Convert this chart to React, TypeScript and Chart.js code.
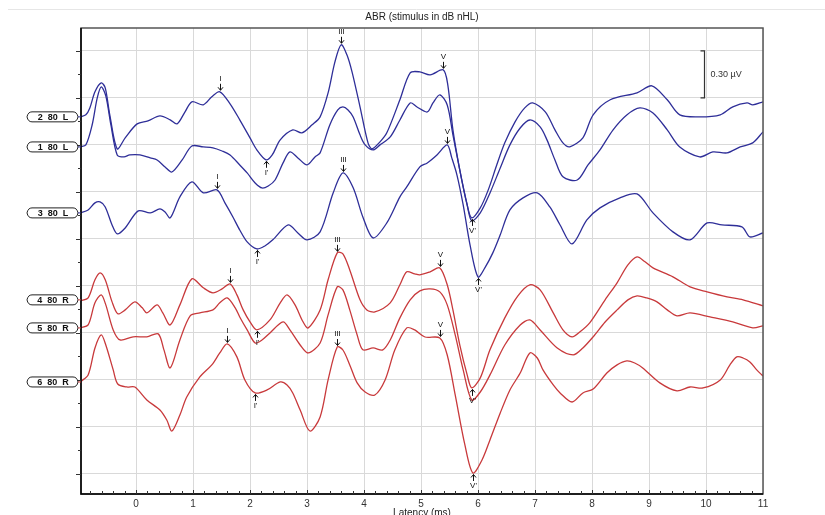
import { useEffect, useRef } from 'react';
import { Chart, registerables } from 'chart.js';

Chart.register(...registerables);

// ---------- data ----------
const TITLE = 'ABR (stimulus in dB nHL)';
const X_TITLE = 'Latency (ms)';
const LATENCY_TICKS = [0, 1, 2, 3, 4, 5, 6, 7, 8, 9, 10, 11];
const SCALE_BAR_LABEL = '0.30 µV';
const SCALE_BAR_UV = 0.3;

const TRACE_LABELS = ['2  80  L', '1  80  L', '3  80  L', '4  80  R', '5  80  R', '6  80  R'];
const TRACE_EAR = ['L', 'L', 'L', 'R', 'R', 'R'];
// vertical offsets of each trace baseline (µV)
const TRACE_OFFSETS = [2.279, 2.087, 1.666, 1.111, 0.932, 0.587];

// trace "2 80 L"
const T2_MS = [-0.98, -0.88, -0.81, -0.72, -0.61, -0.54, -0.46, -0.33, -0.19, 0.02, 0.21, 0.42, 0.6, 0.72, 0.86, 0.98, 1.18, 1.33, 1.47, 1.65, 1.82, 2.0, 2.12, 2.28, 2.39, 2.53, 2.75, 2.91, 3.09, 3.23, 3.37, 3.49, 3.6, 3.7, 3.79, 3.93, 4.07, 4.14, 4.28, 4.4, 4.63, 4.81, 4.98, 5.16, 5.39, 5.47, 5.56, 5.68, 5.81, 5.89, 6.04, 6.18, 6.33, 6.47, 6.65, 6.82, 6.96, 7.18, 7.35, 7.49, 7.61, 7.84, 8.02, 8.32, 8.79, 9.05, 9.32, 9.54, 9.89, 10.25, 10.47, 10.72, 10.82, 11.0];
const T2_UV = [0, 0.013, 0.057, 0.16, 0.217, 0.185, 0.013, -0.204, -0.134, -0.045, -0.026, 0.006, -0.019, -0.045, 0.032, 0.096, 0.077, 0.128, 0.16, 0.083, -0.019, -0.134, -0.211, -0.274, -0.243, -0.147, -0.083, -0.102, -0.051, 0, 0.153, 0.351, 0.46, 0.396, 0.287, 0.064, -0.166, -0.204, -0.16, -0.102, 0.109, 0.281, 0.287, 0.268, 0.3, 0.204, -0.083, -0.338, -0.562, -0.645, -0.581, -0.466, -0.306, -0.166, -0.032, 0.057, 0.089, 0.032, -0.083, -0.166, -0.191, -0.134, 0.013, 0.109, 0.153, 0.198, 0.109, 0.013, 0, 0.013, 0.064, 0.089, 0.077, 0.096];

// trace "1 80 L"
const T1_MS = [-0.98, -0.88, -0.77, -0.68, -0.61, -0.53, -0.44, -0.33, -0.21, -0.11, 0.07, 0.25, 0.37, 0.51, 0.63, 0.81, 0.98, 1.18, 1.35, 1.51, 1.65, 1.82, 1.95, 2.09, 2.21, 2.32, 2.44, 2.58, 2.7, 2.84, 3.0, 3.14, 3.23, 3.4, 3.54, 3.63, 3.72, 3.81, 3.93, 4.02, 4.16, 4.28, 4.46, 4.63, 4.81, 4.93, 5.11, 5.21, 5.33, 5.46, 5.56, 5.68, 5.81, 5.89, 6.04, 6.21, 6.39, 6.56, 6.74, 6.91, 7.09, 7.21, 7.35, 7.49, 7.74, 7.93, 8.14, 8.37, 8.61, 8.84, 9.07, 9.32, 9.54, 9.89, 10.12, 10.37, 10.6, 10.82, 11.0];
const T1_UV = [0, 0.013, 0.14, 0.313, 0.383, 0.326, 0.14, -0.051, -0.064, -0.051, -0.051, -0.07, -0.083, -0.128, -0.16, -0.083, 0.006, 0, -0.006, -0.026, -0.051, -0.115, -0.166, -0.23, -0.262, -0.249, -0.211, -0.102, -0.032, -0.07, -0.115, -0.064, -0.038, 0.14, 0.236, 0.255, 0.236, 0.191, 0.077, 0.013, -0.019, 0.013, 0.064, 0.172, 0.281, 0.255, 0.223, 0.281, 0.332, 0.268, 0.077, -0.147, -0.37, -0.472, -0.421, -0.294, -0.134, 0.013, 0.121, 0.172, 0.128, 0.045, -0.083, -0.191, -0.211, -0.115, -0.019, 0.109, 0.204, 0.249, 0.217, 0.109, 0, -0.064, -0.032, -0.038, 0, 0.026, 0.096];

// trace "3 80 L"
const T3_MS = [-0.98, -0.84, -0.72, -0.63, -0.54, -0.42, -0.33, -0.19, 0.04, 0.25, 0.42, 0.51, 0.6, 0.77, 0.98, 1.18, 1.42, 1.56, 1.7, 1.82, 1.95, 2.12, 2.26, 2.4, 2.67, 2.84, 3.0, 3.23, 3.46, 3.63, 3.81, 3.98, 4.16, 4.4, 4.63, 4.75, 4.98, 5.11, 5.28, 5.46, 5.54, 5.63, 5.74, 5.86, 6.0, 6.12, 6.26, 6.39, 6.56, 6.79, 7.04, 7.26, 7.44, 7.65, 7.91, 8.14, 8.49, 8.79, 9.07, 9.42, 9.72, 10.02, 10.28, 10.63, 10.77, 11.0];
const T3_UV = [0, 0.019, 0.064, 0.07, 0.038, -0.077, -0.134, -0.096, 0.013, 0, 0.026, 0.006, -0.032, 0.102, 0.198, 0.128, 0.147, 0.064, -0.026, -0.109, -0.185, -0.23, -0.211, -0.172, -0.077, -0.128, -0.172, -0.121, 0.128, 0.255, 0.16, -0.026, -0.16, -0.064, 0.102, 0.166, 0.294, 0.319, 0.37, 0.434, 0.351, 0.243, 0.051, -0.204, -0.409, -0.351, -0.255, -0.14, 0.019, 0.096, 0.128, 0.038, -0.077, -0.198, -0.045, 0.032, 0.096, 0.121, 0, -0.121, -0.172, -0.064, -0.077, -0.089, -0.153, -0.128];

// trace "4 80 R"
const T4_MS = [-0.98, -0.84, -0.72, -0.63, -0.54, -0.42, -0.32, -0.19, -0.02, 0.11, 0.19, 0.37, 0.47, 0.6, 0.77, 0.98, 1.18, 1.35, 1.51, 1.65, 1.77, 1.88, 2.0, 2.12, 2.35, 2.53, 2.65, 2.79, 2.93, 3.02, 3.23, 3.37, 3.53, 3.63, 3.75, 3.93, 4.05, 4.19, 4.46, 4.63, 4.75, 4.89, 4.98, 5.16, 5.33, 5.46, 5.56, 5.68, 5.81, 5.89, 6.04, 6.21, 6.47, 6.7, 6.91, 7.09, 7.32, 7.49, 7.65, 7.79, 7.96, 8.23, 8.44, 8.63, 8.79, 8.93, 9.07, 9.42, 9.72, 10.02, 10.37, 10.65, 11.0];
const T4_UV = [-0.006, 0.013, 0.128, 0.172, 0.128, -0.013, -0.089, -0.064, -0.013, -0.051, -0.083, -0.032, -0.083, -0.16, -0.032, 0.134, 0.077, 0.045, 0.07, 0.102, 0.032, -0.064, -0.14, -0.191, -0.128, -0.019, 0.032, -0.032, -0.14, -0.179, -0.064, 0.128, 0.3, 0.294, 0.191, 0, -0.064, -0.077, -0.019, 0.096, 0.179, 0.166, 0.16, 0.179, 0.204, 0.096, -0.064, -0.287, -0.479, -0.562, -0.498, -0.319, -0.115, 0.026, 0.096, 0.064, -0.083, -0.191, -0.236, -0.204, -0.147, 0, 0.109, 0.223, 0.274, 0.243, 0.204, 0.147, 0.083, 0.051, 0.019, 0, -0.038];

// trace "5 80 R"
const T5_MS = [-0.98, -0.84, -0.72, -0.61, -0.53, -0.4, -0.28, -0.05, 0.19, 0.39, 0.49, 0.6, 0.77, 0.95, 1.12, 1.35, 1.47, 1.6, 1.74, 1.82, 1.95, 2.09, 2.21, 2.35, 2.58, 2.7, 2.88, 3.02, 3.23, 3.37, 3.53, 3.63, 3.75, 3.88, 3.98, 4.16, 4.33, 4.46, 4.63, 4.81, 4.98, 5.16, 5.33, 5.46, 5.6, 5.74, 5.89, 6.04, 6.21, 6.47, 6.74, 6.91, 7.09, 7.39, 7.67, 7.84, 8.02, 8.23, 8.44, 8.63, 8.79, 8.96, 9.14, 9.32, 9.49, 9.72, 10.07, 10.47, 10.82, 11.0];
const T5_UV = [0, 0.019, 0.16, 0.211, 0.147, -0.013, -0.077, -0.057, -0.057, -0.038, -0.14, -0.255, -0.077, 0.077, 0.096, 0.115, 0.16, 0.191, 0.128, 0.07, -0.013, -0.096, -0.077, -0.032, 0.038, -0.013, -0.109, -0.16, -0.096, 0.083, 0.262, 0.243, 0.115, -0.045, -0.14, -0.128, -0.14, -0.077, 0.064, 0.179, 0.236, 0.249, 0.23, 0.147, -0.045, -0.268, -0.46, -0.409, -0.3, -0.109, 0.019, 0.051, -0.013, -0.128, -0.172, -0.128, -0.057, 0.038, 0.115, 0.179, 0.204, 0.191, 0.166, 0.115, 0.077, 0.096, 0.07, 0.038, 0, 0.013];

// trace "6 80 R"
const T6_MS = [-0.98, -0.84, -0.72, -0.61, -0.53, -0.4, -0.32, -0.16, -0.02, 0.19, 0.42, 0.54, 0.63, 0.77, 0.89, 1.12, 1.33, 1.47, 1.6, 1.77, 1.91, 2.09, 2.3, 2.53, 2.65, 2.75, 2.88, 3.05, 3.23, 3.37, 3.53, 3.63, 3.75, 3.88, 4.02, 4.19, 4.37, 4.54, 4.75, 4.89, 5.07, 5.33, 5.46, 5.6, 5.77, 5.91, 6.07, 6.21, 6.39, 6.56, 6.74, 6.91, 7.04, 7.14, 7.32, 7.44, 7.65, 7.84, 8.02, 8.26, 8.44, 8.61, 8.75, 8.89, 9.19, 9.49, 9.72, 9.95, 10.25, 10.42, 10.54, 10.65, 10.77, 10.89, 11.0];
const T6_UV = [0, 0.045, 0.217, 0.3, 0.236, 0.077, -0.013, -0.032, -0.032, -0.115, -0.179, -0.243, -0.313, -0.211, -0.096, 0.032, 0.109, 0.185, 0.243, 0.16, 0.013, -0.07, -0.051, 0, -0.019, -0.07, -0.179, -0.313, -0.223, 0.013, 0.223, 0.204, 0.109, -0.006, -0.064, -0.083, 0.013, 0.204, 0.345, 0.332, 0.287, 0.281, 0.172, -0.083, -0.402, -0.581, -0.498, -0.37, -0.198, -0.051, 0.057, 0.185, 0.153, 0.077, -0.019, -0.07, -0.128, -0.07, -0.045, 0.057, 0.109, 0.134, 0.121, 0.089, -0.006, -0.057, -0.032, -0.038, 0.013, 0.109, 0.16, 0.153, 0.128, 0.077, 0.038];

const TRACE_MS = [T2_MS, T1_MS, T3_MS, T4_MS, T5_MS, T6_MS];
const TRACE_UV = [T2_UV, T1_UV, T3_UV, T4_UV, T5_UV, T6_UV];

// peak markers: trace index, latency (ms), label, side
const MARK_TRACE = [0, 0, 0, 0, 0, 2, 2, 2, 2, 2, 3, 3, 3, 3, 3, 5, 5, 5, 5, 5];
const MARK_MS = [1.47, 2.28, 3.6, 5.39, 5.89, 1.42, 2.12, 3.63, 5.46, 6.0, 1.65, 2.12, 3.53, 5.33, 5.89, 1.6, 2.09, 3.53, 5.33, 5.91];
const MARK_LABEL = ['I', "I'", 'III', 'V', "V'", 'I', "I'", 'III', 'V', "V'", 'I', "I'", 'III', 'V', "V'", 'I', "I'", 'III', 'V', "V'"];
const MARK_ABOVE = [true, false, true, true, false, true, false, true, true, false, true, false, true, true, false, true, false, true, true, false];

const BLUE = '#2e2e98';
const RED = '#c8393b';
const FONT = '"Liberation Sans", Arial, sans-serif';

const decor = {
  id: 'abrDecor',
  afterDraw(chart: any) {
    const { ctx, chartArea: a, scales } = chart;
    const xs = scales.x;
    const ys = scales.y;
    ctx.save();

    // faint page line at top
    ctx.strokeStyle = '#e6e6e6';
    ctx.lineWidth = 1;
    ctx.beginPath();
    ctx.moveTo(8, 9.5);
    ctx.lineTo(825, 9.5);
    ctx.stroke();

    // frame
    ctx.strokeStyle = '#555';
    ctx.lineWidth = 1.5;
    ctx.strokeRect(a.left, a.top, a.right - a.left, a.bottom - a.top);
    ctx.strokeStyle = '#000';
    ctx.beginPath();
    ctx.moveTo(a.left, a.top);
    ctx.lineTo(a.left, a.bottom);
    ctx.lineTo(a.right, a.bottom);
    ctx.stroke();

    // minor ticks on x axis
    ctx.lineWidth = 1;
    ctx.strokeStyle = '#333';
    for (let i = -4; i <= 55; i++) {
      const px = Math.round(xs.getPixelForValue(i * 0.2)) + 0.5;
      if (px < a.left || px > a.right) continue;
      ctx.beginPath();
      ctx.moveTo(px, a.bottom);
      ctx.lineTo(px, a.bottom - (i % 5 === 0 ? 4 : 3));
      ctx.stroke();
    }
    // ticks on left axis
    for (let k = 0; k <= 19; k++) {
      const py = Math.round(ys.getPixelForValue(k * 0.15)) + 0.5;
      if (py < a.top || py > a.bottom) continue;
      ctx.beginPath();
      ctx.moveTo(a.left - (k % 2 === 0 ? 5 : 3), py);
      ctx.lineTo(a.left, py);
      ctx.stroke();
    }

    // titles
    ctx.fillStyle = '#222';
    ctx.font = `10px ${FONT}`;
    ctx.textAlign = 'center';
    ctx.textBaseline = 'middle';
    const cx = (a.left + a.right) / 2;
    ctx.fillText(TITLE, cx, 17);
    ctx.textBaseline = 'top';
    ctx.fillText(X_TITLE, cx, 508);

    // scale bar
    const top = ys.getPixelForValue(2.7);
    const bot = ys.getPixelForValue(2.7 - SCALE_BAR_UV);
    const bx = Math.round(xs.getPixelForValue(10)) - 1.5;
    ctx.strokeStyle = '#333';
    ctx.lineWidth = 1.2;
    ctx.beginPath();
    ctx.moveTo(bx - 4, top);
    ctx.lineTo(bx, top);
    ctx.lineTo(bx, bot);
    ctx.lineTo(bx - 4, bot);
    ctx.stroke();
    ctx.font = `9px ${FONT}`;
    ctx.textAlign = 'left';
    ctx.textBaseline = 'middle';
    ctx.fillStyle = '#333';
    ctx.fillText(SCALE_BAR_LABEL, bx + 6, (top + bot) / 2);

    // trace labels
    TRACE_LABELS.forEach((lab, i) => {
      const py = ys.getPixelForValue(TRACE_OFFSETS[i]);
      const x0 = 27, x1 = 77, h = 10;
      ctx.beginPath();
      ctx.moveTo(x0 + 5, py - h / 2);
      ctx.lineTo(x1 - 4, py - h / 2);
      ctx.quadraticCurveTo(x1, py - h / 2, x1 + 1, py);
      ctx.quadraticCurveTo(x1, py + h / 2, x1 - 4, py + h / 2);
      ctx.lineTo(x0 + 5, py + h / 2);
      ctx.quadraticCurveTo(x0 + 1, py + h / 2, x0, py);
      ctx.quadraticCurveTo(x0 + 1, py - h / 2, x0 + 5, py - h / 2);
      ctx.closePath();
      ctx.fillStyle = '#fff';
      ctx.fill();
      ctx.strokeStyle = '#222';
      ctx.lineWidth = 1;
      ctx.stroke();
      ctx.beginPath();
      ctx.moveTo(x1 + 1, py);
      ctx.lineTo(a.left, py);
      ctx.strokeStyle = TRACE_EAR[i] === 'L' ? BLUE : RED;
      ctx.stroke();
      ctx.fillStyle = '#111';
      ctx.font = `bold 9px ${FONT}`;
      ctx.textAlign = 'center';
      ctx.textBaseline = 'middle';
      ctx.fillText(lab, (x0 + x1) / 2 + 1, py + 0.5);
    });

    // peak markers
    ctx.fillStyle = '#111';
    ctx.strokeStyle = '#111';
    ctx.lineWidth = 1;
    ctx.font = `8px ${FONT}`;
    ctx.textAlign = 'center';
    MARK_MS.forEach((t, m) => {
      const tr = MARK_TRACE[m];
      const tms = TRACE_MS[tr];
      let best = 0;
      tms.forEach((v, j) => { if (Math.abs(v - t) < Math.abs(tms[best] - t)) best = j; });
      const px = Math.round(xs.getPixelForValue(t)) + 0.5;
      const py = ys.getPixelForValue(TRACE_UV[tr][best] + TRACE_OFFSETS[tr]);
      const s = MARK_ABOVE[m] ? -1 : 1;
      const tip = py + s * 1.5;
      const tail = py + s * 8;
      ctx.beginPath();
      ctx.moveTo(px, tail);
      ctx.lineTo(px, tip);
      ctx.stroke();
      ctx.beginPath();
      ctx.moveTo(px - 2.5, tip + s * 3);
      ctx.lineTo(px, tip);
      ctx.lineTo(px + 2.5, tip + s * 3);
      ctx.stroke();
      ctx.textBaseline = MARK_ABOVE[m] ? 'bottom' : 'top';
      ctx.fillText(MARK_LABEL[m], px, tail + s * 1);
    });

    ctx.restore();
  },
};

export default function App() {
  const ref = useRef<HTMLCanvasElement | null>(null);
  useEffect(() => {
    if (!ref.current) return;
    const datasets = TRACE_MS.map((ms, i) => ({
      label: TRACE_LABELS[i],
      data: ms.map((t, j) => ({ x: t, y: TRACE_UV[i][j] + TRACE_OFFSETS[i] })),
      borderColor: TRACE_EAR[i] === 'L' ? BLUE : RED,
      borderWidth: 1.3,
      pointRadius: 0,
      fill: false,
      tension: 0.3,
    }));
    const chart = new Chart(ref.current, {
      type: 'line',
      data: { datasets },
      options: {
        animation: false,
        responsive: false,
        devicePixelRatio: 1,
        layout: { padding: { left: 0, top: 28, right: 62, bottom: 0 } },
        plugins: { legend: { display: false }, tooltip: { enabled: false }, title: { display: false } },
        scales: {
          x: {
            type: 'linear',
            min: -0.965,
            max: 11,
            afterBuildTicks: (s: any) => { s.ticks = LATENCY_TICKS.map((v) => ({ value: v })); },
            afterFit: (s: any) => { s.height = 21; },
            grid: { color: '#d9d9d9', drawTicks: false, lineWidth: 1 },
            border: { display: false },
            ticks: { color: '#333', font: { family: FONT, size: 10 }, padding: 4, maxRotation: 0, autoSkip: false },
          },
          y: {
            type: 'linear',
            min: -0.128,
            max: 2.846,
            afterBuildTicks: (s: any) => { s.ticks = [0, 0.3, 0.6, 0.9, 1.2, 1.5, 1.8, 2.1, 2.4, 2.7].map((v) => ({ value: v })); },
            afterFit: (s: any) => { s.width = 81; },
            grid: { color: '#d9d9d9', drawTicks: false, lineWidth: 1 },
            border: { display: false },
            ticks: { display: false },
          },
        },
      },
      plugins: [decor],
    });
    return () => chart.destroy();
  }, []);
  return (
    <div style={{ position: 'fixed', left: 0, top: 0, width: 825, height: 515, background: '#fff' }}>
      <canvas ref={ref} width={825} height={515} style={{ display: 'block' }} />
    </div>
  );
}
